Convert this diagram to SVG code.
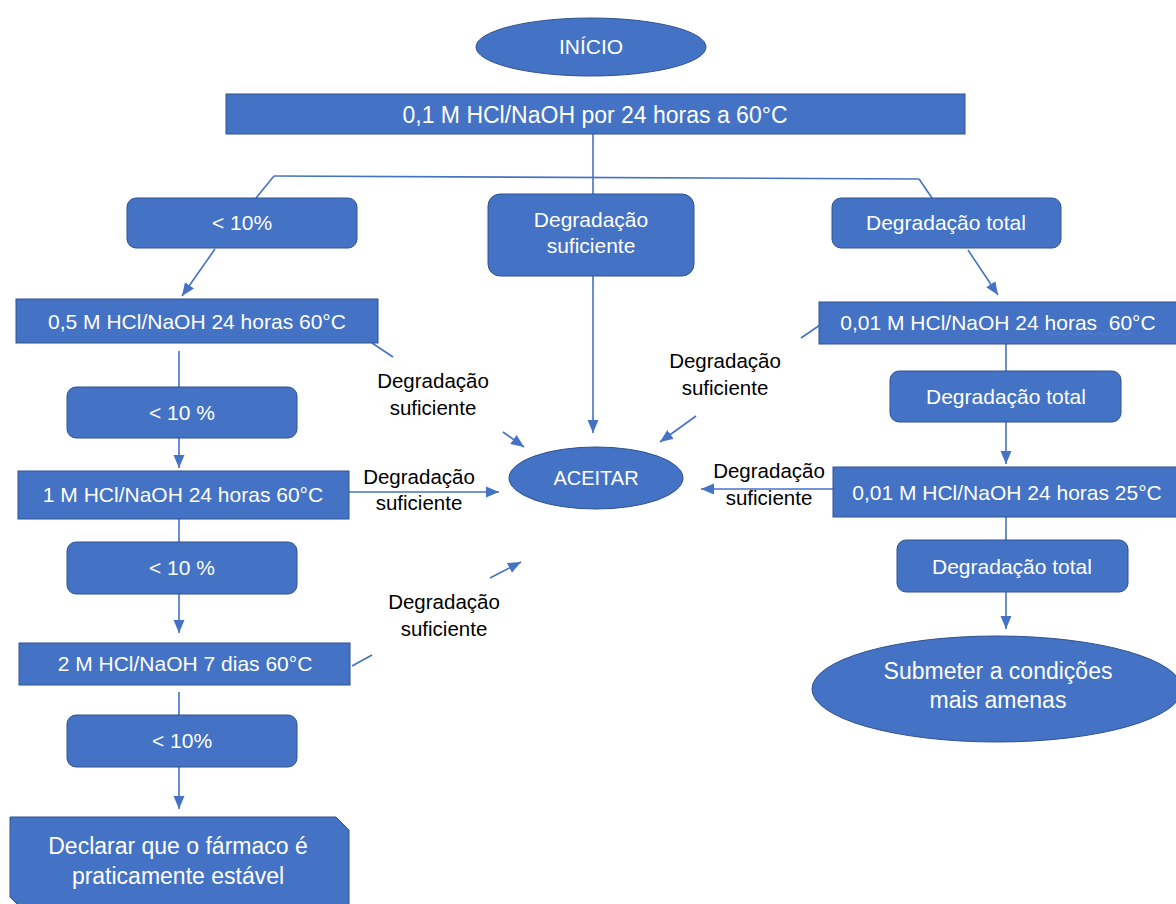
<svg xmlns="http://www.w3.org/2000/svg" width="1176" height="904" viewBox="0 0 1176 904">
<style>
.n{fill:#4472C4;stroke:#2F528F;stroke-width:1}
.t{font-family:"Liberation Sans",Arial,sans-serif;font-size:21px;fill:#FFFFFF;text-anchor:middle}
.big{font-size:23px}
.l{font-family:"Liberation Sans",Arial,sans-serif;font-size:20.5px;fill:#000000;text-anchor:middle}
.c{fill:none;stroke:#4472C4;stroke-width:1.6}
.a{marker-end:url(#ah)}
</style>
<defs>
<marker id="ah" markerUnits="userSpaceOnUse" markerWidth="14" markerHeight="14" viewBox="0 0 14 14" refX="13" refY="7" orient="auto">
<path d="M0,1.5 L13,7 L0,12.5 Z" fill="#4472C4"/>
</marker>
</defs>
<rect width="1176" height="904" fill="#FFFFFF"/>

<g id="connectors">
<line class="c" x1="593" y1="134" x2="593" y2="194"/>
<line class="c" x1="274" y1="176" x2="919" y2="179" stroke-width="2"/>
<line class="c" x1="274" y1="176" x2="256" y2="198"/>
<line class="c" x1="919" y1="179" x2="932" y2="198"/>
<line class="c a" x1="215" y1="249" x2="182" y2="296"/>
<line class="c" x1="179" y1="351" x2="179" y2="387"/>
<line class="c" x1="372" y1="343" x2="393" y2="357"/>
<line class="c a" x1="503" y1="432" x2="524" y2="447"/>
<line class="c a" x1="593" y1="276" x2="593" y2="433"/>
<line class="c a" x1="696" y1="416" x2="660" y2="442"/>
<line class="c" x1="801" y1="338" x2="820" y2="325"/>
<line class="c a" x1="968" y1="250" x2="998" y2="295"/>
<line class="c" x1="1006" y1="344" x2="1006" y2="371"/>
<line class="c a" x1="1006" y1="422" x2="1006" y2="464"/>
<line class="c a" x1="833" y1="489" x2="701" y2="489"/>
<line class="c a" x1="349" y1="492" x2="499" y2="492"/>
<line class="c a" x1="179" y1="438" x2="179" y2="468"/>
<line class="c" x1="179" y1="519" x2="179" y2="542"/>
<line class="c a" x1="179" y1="594" x2="179" y2="633"/>
<line class="c" x1="352" y1="666" x2="372" y2="655"/>
<line class="c a" x1="490" y1="578" x2="521" y2="562"/>
<line class="c" x1="179" y1="692" x2="179" y2="715"/>
<line class="c a" x1="179" y1="767" x2="179" y2="809"/>
<line class="c" x1="1006" y1="517" x2="1006" y2="540"/>
<line class="c a" x1="1006" y1="592" x2="1006" y2="629"/>
</g>

<g id="inicio">
<ellipse class="n" cx="591" cy="47" rx="115" ry="29"/>
<text class="t" x="591" y="54">INÍCIO</text>
</g>

<g id="cond01">
<rect class="n" x="226" y="94" width="739" height="40"/>
<text class="t big" x="595" y="123">0,1 M HCl/NaOH por 24 horas a 60°C</text>
</g>

<g id="menos10a">
<rect class="n" x="127" y="198" width="230" height="50" rx="9"/>
<text class="t" x="242" y="230">&lt; 10%</text>
</g>

<g id="degsuf">
<rect class="n" x="488" y="194" width="206" height="82" rx="12"/>
<text class="t" x="591" y="227">Degradação</text>
<text class="t" x="591" y="253">suficiente</text>
</g>

<g id="degtot1">
<rect class="n" x="832" y="198" width="229" height="50" rx="9"/>
<text class="t" x="946" y="230">Degradação total</text>
</g>

<g id="cond05">
<rect class="n" x="16" y="299" width="362" height="44"/>
<text class="t" x="197" y="329">0,5 M HCl/NaOH 24 horas 60°C</text>
</g>

<g id="menos10b">
<rect class="n" x="67" y="387" width="230" height="51" rx="9"/>
<text class="t" x="182" y="420">&lt; 10 %</text>
</g>

<g id="cond1">
<rect class="n" x="18" y="471" width="331" height="48"/>
<text class="t" x="183" y="502">1 M HCl/NaOH 24 horas 60°C</text>
</g>

<g id="menos10c">
<rect class="n" x="67" y="542" width="230" height="52" rx="9"/>
<text class="t" x="182" y="575">&lt; 10 %</text>
</g>

<g id="cond2">
<rect class="n" x="19" y="643" width="331" height="42"/>
<text class="t" x="185" y="671">2 M HCl/NaOH 7 dias 60°C</text>
</g>

<g id="menos10d">
<rect class="n" x="67" y="715" width="230" height="52" rx="9"/>
<text class="t" x="182" y="748">&lt; 10%</text>
</g>

<g id="declarar">
<path class="n" d="M10,817 L336,817 L349,830 L349,905 L18,905 L10,897 Z"/>
<text class="t big" x="178" y="854">Declarar que o fármaco é</text>
<text class="t big" x="178" y="884">praticamente estável</text>
</g>

<g id="aceitar">
<ellipse class="n" cx="596" cy="478" rx="87" ry="31"/>
<text class="t" x="596" y="485" style="font-size:20px">ACEITAR</text>
</g>

<g id="cond001a">
<rect class="n" x="819" y="302" width="362" height="42"/>
<text class="t" x="998" y="330" style="white-space:pre">0,01 M HCl/NaOH 24 horas  60°C</text>
<path d="M1047,334 q2.5,-2.5 5,0 t5,0 t5,0 t5,0 t5,0 t5,0 t5,0 t5,0 t5,0 t5,0 t5,0 t5,0 t5,0 t5,0 t5,0 t5,0 t5,0" fill="none" stroke="#5A7FD0" stroke-width="1"/>
</g>

<g id="degtot2">
<rect class="n" x="890" y="371" width="231" height="51" rx="9"/>
<text class="t" x="1006" y="404">Degradação total</text>
</g>

<g id="cond001b">
<rect class="n" x="833" y="467" width="348" height="50"/>
<text class="t" x="1007" y="500">0,01 M HCl/NaOH 24 horas 25°C</text>
</g>

<g id="degtot3">
<rect class="n" x="897" y="540" width="231" height="52" rx="9"/>
<text class="t" x="1012" y="574">Degradação total</text>
</g>

<g id="submeter">
<ellipse class="n" cx="997" cy="689" rx="185" ry="53"/>
<text class="t big" x="998" y="679">Submeter a condições</text>
<text class="t big" x="998" y="708">mais amenas</text>
</g>

<g id="labels">
<text class="l" x="433" y="388">Degradação</text>
<text class="l" x="433" y="415">suficiente</text>
<text class="l" x="725" y="368">Degradação</text>
<text class="l" x="725" y="395">suficiente</text>
<text class="l" x="419" y="484">Degradação</text>
<text class="l" x="419" y="510">suficiente</text>
<text class="l" x="769" y="478">Degradação</text>
<text class="l" x="769" y="505">suficiente</text>
<text class="l" x="444" y="609">Degradação</text>
<text class="l" x="444" y="636">suficiente</text>
</g>
</svg>
